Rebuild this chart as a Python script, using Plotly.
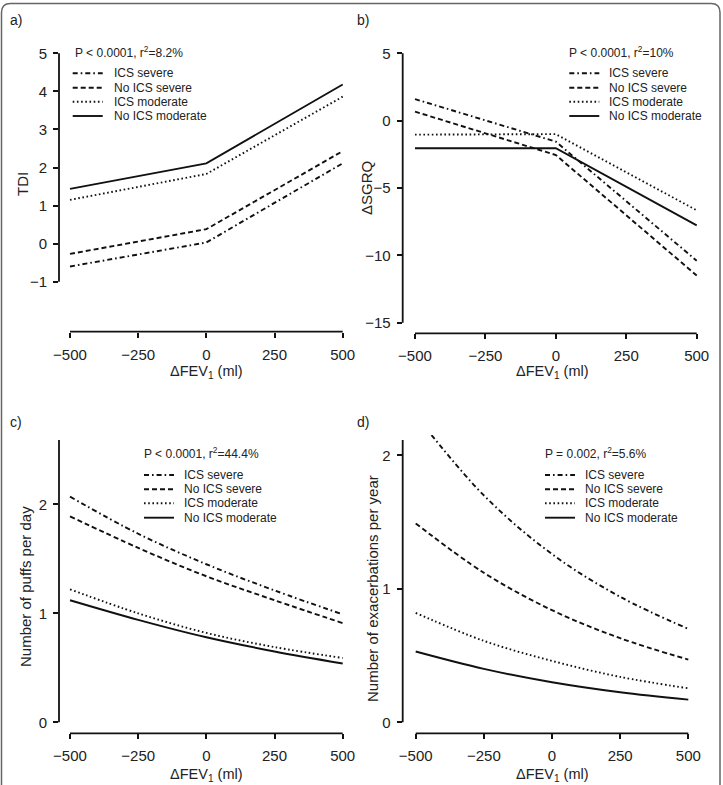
import plotly.graph_objects as go

# ---------------- data ----------------
series_names = ["ICS severe", "No ICS severe", "ICS moderate", "No ICS moderate"]

x_lin = [-500, 0, 500]
tdi_ics_sev = [-0.60, 0.03, 2.11]
tdi_noics_sev = [-0.27, 0.38, 2.43]
tdi_ics_mod = [1.15, 1.83, 3.86]
tdi_noics_mod = [1.44, 2.11, 4.18]

sgrq_ics_sev = [1.60, -1.56, -10.40]
sgrq_noics_sev = [0.67, -2.55, -11.50]
sgrq_ics_mod = [-1.04, -1.00, -6.66]
sgrq_noics_mod = [-2.05, -2.05, -7.78]

x_curve = [-500, -250, 0, 250, 500]
puffs_ics_sev = [2.07, 1.73, 1.45, 1.21, 0.99]
puffs_noics_sev = [1.89, 1.60, 1.34, 1.12, 0.91]
puffs_ics_mod = [1.22, 1.00, 0.82, 0.69, 0.59]
puffs_noics_mod = [1.12, 0.94, 0.78, 0.65, 0.54]

exac_ics_sev = [2.30, 1.70, 1.26, 0.94, 0.70]
exac_noics_sev = [1.49, 1.12, 0.84, 0.63, 0.47]
exac_ics_mod = [0.82, 0.61, 0.46, 0.34, 0.255]
exac_noics_mod = [0.53, 0.40, 0.30, 0.225, 0.17]

x_ticks = [-500, -250, 0, 250, 500]
tdi_ticks = [-1, 0, 1, 2, 3, 4, 5]
sgrq_ticks = [-15, -10, -5, 0, 5]
puffs_ticks = [0, 1, 2]
exac_ticks = [0, 1, 2]

stat_texts = ["P < 0.0001, r<sup>2</sup>=8.2%", "P < 0.0001, r<sup>2</sup>=10%",
              "P < 0.0001, r<sup>2</sup>=44.4%", "P = 0.002, r<sup>2</sup>=5.6%"]
panel_labels = ["a)", "b)", "c)", "d)"]
x_title = "ΔFEV<sub>1</sub> (ml)"
y_titles = ["TDI", "ΔSGRQ", "Number of puffs per day", "Number of exacerbations per year"]

# ---------------- styles ----------------
W, H = 723, 785
FONT = "Liberation Sans, Arial, sans-serif"
INK = "#111111"
TXT = "#222222"
dashes = ["5px,3px,1.6px,3px", "5px,3px", "1.6px,2.6px", "solid"]
LW = 1.9


def fx(p):
    return p / W


def fy(p):
    return 1 - p / H


def rng(p_lo, p_hi, v1, p1, v2, p2):
    s = (p2 - p1) / (v2 - v1)
    return [v1 + (p_lo - p1) / s, v1 + (p_hi - p1) / s]


# panel geometry: plot box (left, right, top, bottom) and calibration points
panels = [
    dict(box=(59, 354, 42, 331.7), xcal=(-500, 70, 500, 342.7), ycal=(5, 53.3, -1, 281.7),
         ylines=(-1, 5)),
    dict(box=(402.7, 708, 42, 333.3), xcal=(-500, 415, 500, 696.7), ycal=(5, 53.3, -15, 322.7),
         ylines=(-15, 5)),
    dict(box=(59, 354, 440, 733.3), xcal=(-500, 70, 500, 342.7), ycal=(0, 722.3, 2, 504.3),
         ylines=(0, None)),
    dict(box=(402.7, 699, 435, 733.3), xcal=(-500, 415.7, 500, 688.3), ycal=(0, 722.3, 2, 455.3),
         ylines=(0, 2.115)),
]
yticks_all = [tdi_ticks, sgrq_ticks, puffs_ticks, exac_ticks]
data_all = [
    (x_lin, [tdi_ics_sev, tdi_noics_sev, tdi_ics_mod, tdi_noics_mod], "linear"),
    (x_lin, [sgrq_ics_sev, sgrq_noics_sev, sgrq_ics_mod, sgrq_noics_mod], "linear"),
    (x_curve, [puffs_ics_sev, puffs_noics_sev, puffs_ics_mod, puffs_noics_mod], "spline"),
    (x_curve, [exac_ics_sev, exac_noics_sev, exac_ics_mod, exac_noics_mod], "spline"),
]

fig = go.Figure()
layout = dict(template="none", width=W, height=H, margin=dict(l=0, r=0, t=0, b=0, pad=0),
              paper_bgcolor="white", plot_bgcolor="white", showlegend=False,
              font=dict(family=FONT, size=14, color=TXT))
shapes, annotations = [], []

for i, pn in enumerate(panels):
    k = "" if i == 0 else str(i + 1)
    L, R, T, B = pn["box"]
    xr = rng(L, R, *pn["xcal"])
    yr = rng(B, T, *pn["ycal"])
    common = dict(ticks="outside", ticklen=5, tickwidth=1.6, tickcolor=INK, showline=False,
                  showgrid=False, zeroline=False, automargin=False, fixedrange=True,
                  tickfont=dict(family=FONT, size=15, color=TXT))
    layout["xaxis" + k] = dict(domain=[fx(L), fx(R)], range=xr, anchor="y" + k,
                               tickvals=x_ticks, ticklabelstandoff=4, **common)
    layout["yaxis" + k] = dict(domain=[fy(B), fy(T)], range=yr, anchor="x" + k,
                               tickvals=yticks_all[i], ticklabelstandoff=3, **common)
    xs, ys_list, shape = data_all[i]
    for name, ys, dsh in zip(series_names, ys_list, dashes):
        fig.add_trace(go.Scatter(x=xs, y=ys, mode="lines", name=name,
                                 line=dict(color=INK, width=LW, dash=dsh, shape=shape,
                                           smoothing=1.0),
                                 xaxis="x" + k, yaxis="y" + k, showlegend=False))
    # detached axis lines (R style)
    shapes.append(dict(type="line", xref="x" + k, yref="y" + k + " domain",
                       x0=x_ticks[0], x1=x_ticks[-1], y0=0, y1=0,
                       line=dict(color=INK, width=1.8)))
    y0, y1 = pn["ylines"]
    top = yr[1] if y1 is None else y1
    shapes.append(dict(type="line", xref="x" + k + " domain", yref="y" + k,
                       x0=0, x1=0, y0=y0, y1=top, line=dict(color=INK, width=1.8)))

# legends (manual, compact like the original)
leg_geo = [
    dict(stat=(72.7, 52.3), rows=[73.3, 87.7, 101.7, 116], sx=(72.7, 102.7), tx=111.7),
    dict(stat=(566.7, 52.3), rows=[73.3, 87.7, 101.7, 116], sx=(569.3, 599.3), tx=607.3),
    dict(stat=(142.3, 453.3), rows=[475, 489.3, 503.3, 517.7], sx=(144, 174), tx=182.3),
    dict(stat=(543.3, 453.3), rows=[475, 489.3, 503.3, 517.7], sx=(545, 575), tx=583.3),
]
for i, g in enumerate(leg_geo):
    annotations.append(dict(text=stat_texts[i], x=fx(g["stat"][0]), y=fy(g["stat"][1]),
                            xref="paper", yref="paper", xanchor="left", yanchor="middle",
                            showarrow=False, font=dict(family=FONT, size=12, color=TXT)))
    for name, dsh, ry in zip(series_names, dashes, g["rows"]):
        shapes.append(dict(type="line", xref="paper", yref="paper",
                           x0=fx(g["sx"][0]), x1=fx(g["sx"][1]), y0=fy(ry), y1=fy(ry),
                           line=dict(color=INK, width=LW, dash=dsh)))
        annotations.append(dict(text=name, x=fx(g["tx"]), y=fy(ry), xref="paper", yref="paper",
                                xanchor="left", yanchor="middle", showarrow=False,
                                font=dict(family=FONT, size=12, color=TXT)))

# axis titles and panel labels
xt_pos = [(206.3, 372), (552, 372), (206.3, 775), (552, 775)]
yt_pos = [(23, 184), (367, 188), (25, 587), (372, 588)]
pl_pos = [(8, 20), (355, 20), (8, 422), (355, 422)]
for i in range(4):
    annotations.append(dict(text=x_title, x=fx(xt_pos[i][0]), y=fy(xt_pos[i][1]),
                            xref="paper", yref="paper", xanchor="center", yanchor="middle",
                            showarrow=False, font=dict(family=FONT, size=14.5, color=TXT)))
    annotations.append(dict(text=y_titles[i], x=fx(yt_pos[i][0]), y=fy(yt_pos[i][1]),
                            xref="paper", yref="paper", xanchor="center", yanchor="middle",
                            textangle=-90, showarrow=False,
                            font=dict(family=FONT, size=15, color=TXT)))
    annotations.append(dict(text=panel_labels[i], x=fx(pl_pos[i][0]), y=fy(pl_pos[i][1]),
                            xref="paper", yref="paper", xanchor="left", yanchor="middle",
                            showarrow=False, font=dict(family=FONT, size=14, color=TXT)))

# rounded frame around the figure
l, r, t, b, c = 1.5, 720, 3.5, 800, 9
path = (f"M {fx(l)},{fy(b)} L {fx(l)},{fy(t + c)} Q {fx(l)},{fy(t)} {fx(l + c)},{fy(t)} "
        f"L {fx(r - c)},{fy(t)} Q {fx(r)},{fy(t)} {fx(r)},{fy(t + c)} L {fx(r)},{fy(b)}")
shapes.append(dict(type="path", xref="paper", yref="paper", path=path,
                   line=dict(color="#666666", width=1.5)))

layout["shapes"] = shapes
layout["annotations"] = annotations
fig.update_layout(**layout)
fig.write_html("out.html")
